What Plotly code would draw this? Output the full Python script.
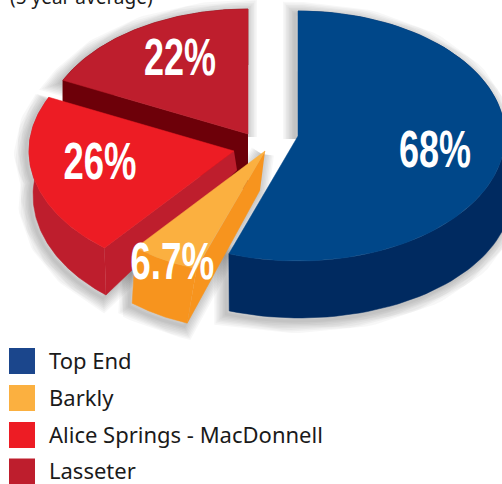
import numpy as np
import plotly.graph_objects as go

# --- data ---
categories = ["Top End", "Barkly", "Alice Springs - MacDonnell", "Lasseter"]
values = [68, 6.7, 26, 22]
value_labels = ["68%", "6.7%", "26%", "22%"]
subtitle = "(5 year average)"

# --- styling / geometry of the exploded 3D look ---
top_colors = ["#004789", "#FBB040", "#ED1C24", "#BE1E2D"]
side_colors = ["#002A60", "#F7941E", "#BE1E2D", "#6D0009"]
legend_colors = ["#1B468C", "#FBB040", "#ED1C24", "#BE1E2D"]
top_ellipse = [(298, 136, 207, 125), (265, 151, 205, 125), (234, 151, 205, 125), (248, 134, 205, 125)]
bottom_ellipse = [(300, 194, 212, 124), (249, 211, 185, 119), (231, 195, 198, 129), (248, 190, 205, 125)]
apex_bottom = [(298, 194), (260, 190), (237, 170), (248, 190)]
label_xy = [(435, 149), (172, 261), (100, 161), (180, 57)]
label_width = [72, 84, 73, 72]
legend_y = [361, 398, 435, 471.5]
legend_text_y = [360, 397, 434, 469.5]
draw_order = [3, 2, 0, 1]
LABEL_FONT = "Liberation Sans"
TEXT_FONT = "Noto Sans"

fracs = np.array(values, dtype=float) / sum(values)
edges = np.concatenate([[0], np.cumsum(fracs)]) * 2 * np.pi


def rim(ell, a0, a1, n=90):
    cx, cy, rx, ry = ell
    t = np.linspace(a0, a1, n)
    return cx + rx * np.sin(t), cy - ry * np.cos(t)


def poly(x, y, color):
    return go.Scatter(x=list(x), y=list(y), mode="lines", fill="toself", fillcolor=color,
                      line=dict(color=color, width=0.5), hoverinfo="skip", showlegend=False)


fig = go.Figure()

# soft shadows behind every slice
for i in draw_order:
    a0, a1 = edges[i], edges[i + 1]
    tx, ty = rim(top_ellipse[i], a0, a1)
    bx, by = rim(bottom_ellipse[i], a0, a1)
    cx, cy = top_ellipse[i][:2]
    if i == 3:
        sx = np.concatenate([[cx], tx, [cx]])
        sy = np.concatenate([[cy], ty, [cy]])
    elif i == 0:
        sx = np.concatenate([[cx], tx, bx[::-1], [cx]])
        sy = np.concatenate([[cy], ty, by[::-1], [cy]])
    else:
        sx = np.concatenate([[cx], tx, bx[::-1], [apex_bottom[i][0], cx]])
        sy = np.concatenate([[cy], ty, by[::-1], [apex_bottom[i][1], cy]])
    for w in (3, 6, 9, 12, 15, 18, 21, 24):
        fig.add_trace(go.Scatter(x=sx - 3, y=sy + 3, mode="lines",
                                 line=dict(color="rgba(0,0,0,0.032)", width=w),
                                 hoverinfo="skip", showlegend=False))

# slices
for i in draw_order:
    a0, a1 = edges[i], edges[i + 1]
    tx, ty = rim(top_ellipse[i], a0, a1)
    bx, by = rim(bottom_ellipse[i], a0, a1)
    cx, cy = top_ellipse[i][:2]
    ax, ay = apex_bottom[i]
    fig.add_trace(poly(np.concatenate([tx, bx[::-1]]), np.concatenate([ty, by[::-1]]), side_colors[i]))
    if i != 0:
        fig.add_trace(poly([cx, tx[0], bx[0], ax], [cy, ty[0], by[0], ay], side_colors[i]))
    fig.add_trace(poly(np.concatenate([[cx], tx, [cx]]), np.concatenate([[cy], ty, [cy]]), top_colors[i]))

# legend swatches and texts
for i, name in enumerate(categories):
    fig.add_trace(go.Scatter(x=[22], y=[legend_y[i]], mode="markers", name=name,
                             marker=dict(symbol="square", size=26, color=legend_colors[i]),
                             hoverinfo="skip", showlegend=False))
    fig.add_annotation(x=47, y=legend_text_y[i], text=name, showarrow=False, xanchor="left", yanchor="middle",
                       font=dict(family=TEXT_FONT, size=22, color="#1a1a1a"))
    fig.add_annotation(x=label_xy[i][0], y=label_xy[i][1], text=value_labels[i], showarrow=False,
                       xanchor="center", yanchor="middle",
                       font=dict(family=LABEL_FONT, size=52, color="white", weight="bold"))

fig.add_annotation(xref="paper", yref="paper", x=8 / 502, y=1 + 3 / 484, text=subtitle, showarrow=False,
                   xanchor="left", yanchor="middle",
                   font=dict(family=TEXT_FONT, size=19, color="#1a1a1a"))

fig.update_layout(width=502, height=484, margin=dict(l=0, r=0, t=0, b=0), showlegend=False,
                  paper_bgcolor="white", plot_bgcolor="white",
                  xaxis=dict(range=[0, 502], visible=False, fixedrange=True),
                  yaxis=dict(range=[484, 0], visible=False, fixedrange=True))

widths = dict(zip(value_labels, label_width))
post = """
document.body.style.margin='0';document.body.style.overflow='hidden';
var W = %s;
function squeeze(){
  document.querySelectorAll('.annotation-text').forEach(function(t){
    var w = W[t.textContent];
    if (w) { t.setAttribute('textLength', w); t.setAttribute('lengthAdjust', 'spacingAndGlyphs'); }
  });
}
squeeze(); setTimeout(squeeze, 50);
""" % str(widths)
fig.write_html("out.html", config={"displayModeBar": False}, post_script=post)
